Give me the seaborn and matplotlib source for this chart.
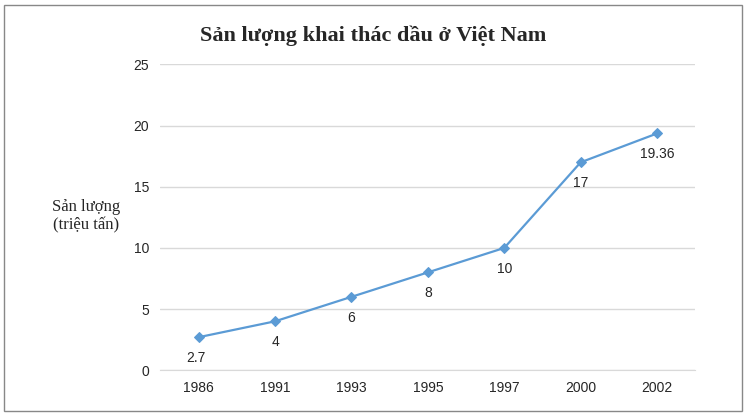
import matplotlib
matplotlib.use("Agg")
import matplotlib.pyplot as plt
import pandas as pd
import seaborn as sns

years = ["1986", "1991", "1993", "1995", "1997", "2000", "2002"]
output = [2.7, 4, 6, 8, 10, 17, 19.36]
labels = ["2.7", "4", "6", "8", "10", "17", "19.36"]

df = pd.DataFrame({"year": years, "output": output})
df["pos"] = range(len(df))

sns.set_style("white")
plt.rcParams["font.family"] = ["Liberation Sans", "DejaVu Sans"]

fig = plt.figure(figsize=(7.46, 4.16), dpi=100)
ax = fig.add_axes([0.215, 0.11, 0.717, 0.735])
sns.lineplot(data=df, x="pos", y="output", ax=ax, color="#5b9bd5",
             marker="D", markersize=5, linewidth=1.6, markeredgecolor="#5b9bd5")

for i, (v, t) in enumerate(zip(output, labels)):
    ax.annotate(t, (i, v), xytext=(-9 if i == 0 else 0, -10), textcoords="offset points",
                ha="left" if i == 0 else "center", va="top", fontsize=10)
# shift label placement to match reference
ax.set_xlim(-0.5, len(years) - 0.5)
ax.set_ylim(0, 25)
ax.set_xticks(df["pos"], years)
ax.set_yticks([0, 5, 10, 15, 20, 25])
ax.tick_params(labelsize=10, length=0, pad=8)
ax.yaxis.grid(True, color="#d9d9d9", linewidth=1)
for s in ["top", "right", "left"]:
    ax.spines[s].set_visible(False)
ax.spines["bottom"].set_color("#d9d9d9")
ax.set_xlabel("")
ax.set_ylabel("")

fig.text(0.5, 0.915, "Sản lượng khai thác dầu ở Việt Nam", ha="center", va="center",
         fontsize=16, fontweight="bold", family=["Liberation Serif"])
fig.text(0.115, 0.48, "Sản lượng\n(triệu tấn)", ha="center", va="center",
         fontsize=12, family=["Liberation Serif"], linespacing=1.2)

fig.patches.append(plt.Rectangle((0.006, 0.012), 0.988, 0.976, transform=fig.transFigure,
                                 fill=False, edgecolor="#888888", linewidth=1))
fig.savefig("out.png", dpi=100)
